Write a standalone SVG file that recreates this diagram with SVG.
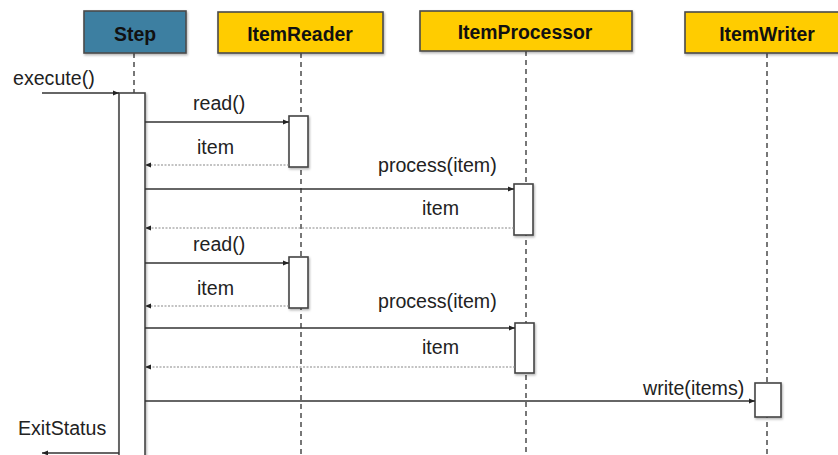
<svg xmlns="http://www.w3.org/2000/svg" width="838" height="455" viewBox="0 0 838 455">
<style>
.hdr{stroke:#4a4a4a;stroke-width:1.6}
.ht{font-family:"Liberation Sans",Arial,sans-serif;font-weight:bold;font-size:19.4px;fill:#111;text-anchor:middle}
.lbl{font-family:"Liberation Sans",Arial,sans-serif;font-size:19.6px;fill:#222}
.life{stroke:#777;stroke-width:2;stroke-dasharray:5 4;fill:none}
.act{fill:#fff;stroke:#444;stroke-width:1.6}
.call{stroke:#333;stroke-width:1.5;fill:none;marker-end:url(#ah)}
.ret{stroke:#888;stroke-width:1.2;stroke-dasharray:2 1.5;fill:none;marker-end:url(#ah)}
</style>
<defs>
<marker id="ah" viewBox="0 0 10 10" refX="10" refY="5" markerWidth="6" markerHeight="6" markerUnits="userSpaceOnUse" orient="auto">
<path d="M0,1 L10,5 L0,9 z" fill="#222"/>
</marker>
<filter id="sh" x="-20%" y="-20%" width="140%" height="140%">
<feDropShadow dx="1" dy="1.5" stdDeviation="1" flood-color="#000" flood-opacity="0.3"/>
</filter>
</defs>
<rect width="838" height="455" fill="#fff"/>

<g id="lifelines">
<line class="life" x1="134" y1="53" x2="134" y2="93"/>
<line class="life" x1="301" y1="53" x2="301" y2="455"/>
<line class="life" x1="526" y1="51" x2="526" y2="455"/>
<line class="life" x1="767" y1="53" x2="767" y2="455"/>
</g>

<g id="step">
<rect class="hdr" x="84" y="11" width="102" height="42" fill="#3e7fa1" filter="url(#sh)"/>
<text class="ht" x="135" y="41">Step</text>
<rect class="act" x="119" y="93" width="26" height="370" filter="url(#sh)"/>
</g>
<g id="itemreader">
<rect class="hdr" x="218" y="12" width="165" height="41" fill="#ffcc00" filter="url(#sh)"/>
<text class="ht" x="300" y="41">ItemReader</text>
<rect class="act" x="289" y="116" width="19" height="51" filter="url(#sh)"/>
<rect class="act" x="289" y="257" width="19" height="51" filter="url(#sh)"/>
</g>
<g id="itemprocessor">
<rect class="hdr" x="420" y="11" width="212" height="40" fill="#ffcc00" filter="url(#sh)"/>
<text class="ht" x="525" y="39">ItemProcessor</text>
<rect class="act" x="514" y="184" width="19" height="51" filter="url(#sh)"/>
<rect class="act" x="515" y="323" width="19" height="50" filter="url(#sh)"/>
</g>
<g id="itemwriter">
<rect class="hdr" x="685" y="12" width="165" height="41" fill="#ffcc00" filter="url(#sh)"/>
<text class="ht" x="767" y="41">ItemWriter</text>
<rect class="act" x="755" y="383" width="26" height="34" filter="url(#sh)"/>
</g>

<g id="connectors">
<line class="call" x1="42" y1="93" x2="119" y2="93"/>
<line class="call" x1="145" y1="122" x2="289" y2="122"/>
<line class="ret" x1="289" y1="165" x2="145" y2="165"/>
<line class="call" x1="145" y1="189" x2="514" y2="189"/>
<line class="ret" x1="514" y1="228" x2="145" y2="228"/>
<line class="call" x1="145" y1="263" x2="289" y2="263"/>
<line class="ret" x1="289" y1="306" x2="145" y2="306"/>
<line class="call" x1="145" y1="328" x2="515" y2="328"/>
<line class="ret" x1="515" y1="367" x2="145" y2="367"/>
<line class="call" x1="145" y1="401" x2="755" y2="401"/>
<line class="call" x1="119" y1="453" x2="42" y2="453"/>
</g>

<g id="labels">
<text class="lbl" x="13" y="85">execute()</text>
<text class="lbl" x="193" y="110">read()</text>
<text class="lbl" x="197" y="154">item</text>
<text class="lbl" x="378" y="172">process(item)</text>
<text class="lbl" x="422" y="215">item</text>
<text class="lbl" x="193" y="251">read()</text>
<text class="lbl" x="197" y="295">item</text>
<text class="lbl" x="378" y="308">process(item)</text>
<text class="lbl" x="422" y="354">item</text>
<text class="lbl" x="643" y="395">write(items)</text>
<text class="lbl" x="18" y="435">ExitStatus</text>
</g>
</svg>
